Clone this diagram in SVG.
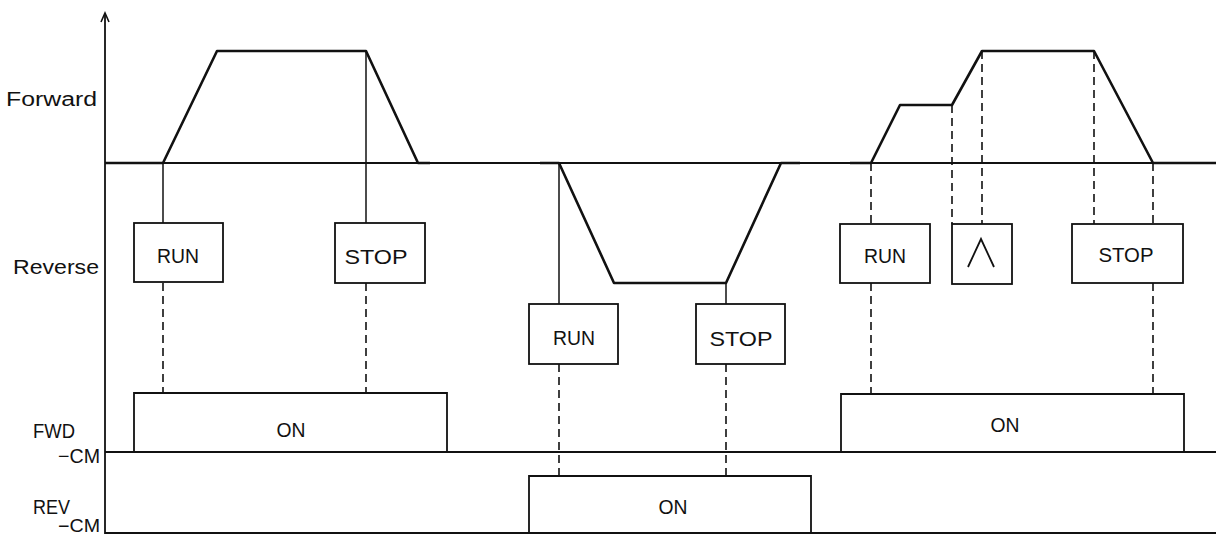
<svg xmlns="http://www.w3.org/2000/svg" width="1216" height="538" viewBox="0 0 1216 538">
<style>
text{font-family:"Liberation Sans",Arial,sans-serif;fill:#111;}
.lbl{font-size:20px;}
.bt{font-size:21px;text-anchor:middle;}
.box{fill:#fff;stroke:#111;stroke-width:1.8;}
.prof{fill:none;stroke:#111;stroke-width:2.6;stroke-linejoin:round;}
.base{fill:none;stroke:#111;stroke-width:1.8;}
.solid{stroke:#111;stroke-width:1.5;fill:none;}
.dash{stroke:#111;stroke-width:1.6;stroke-dasharray:8 5;fill:none;}
</style>
<rect width="1216" height="538" fill="#fff"/>
<g id="axes">
<line x1="105" y1="534" x2="105" y2="14" class="base"/>
<path d="M101,22 L105,13 L109,22" fill="none" stroke="#111" stroke-width="1.6"/>
<line x1="105" y1="163" x2="1216" y2="163" class="base"/>
<line x1="105" y1="452" x2="1216" y2="452" class="base"/>
<line x1="105" y1="533" x2="1216" y2="533" class="base"/>
</g>
<g id="labels">
<text class="lbl" x="6" y="106" textLength="91" lengthAdjust="spacingAndGlyphs">Forward</text>
<text class="lbl" x="13" y="274" textLength="86" lengthAdjust="spacingAndGlyphs">Reverse</text>
<text class="lbl" x="33" y="438" textLength="42" lengthAdjust="spacingAndGlyphs">FWD</text>
<text class="lbl" x="58" y="463" textLength="42" lengthAdjust="spacingAndGlyphs">−CM</text>
<text class="lbl" x="33" y="514" textLength="37" lengthAdjust="spacingAndGlyphs">REV</text>
<text class="lbl" x="58" y="532" style="font-size:18px" textLength="42" lengthAdjust="spacingAndGlyphs">−CM</text>
</g>
<g id="profiles">
<polyline class="prof" points="105,163 163,163 217,51 366,51 418,163 430,163"/>
<polyline class="prof" points="540,163 559,163 614,283 726,283 781,163 800,163"/>
<polyline class="prof" points="850,163 871,163 900,105 952,105 982,51 1094,51 1153,163 1216,163"/>
</g>
<g id="connectors">
<line class="solid" x1="163" y1="163" x2="163" y2="223"/>
<line class="solid" x1="366" y1="51" x2="366" y2="223"/>
<line class="dash" x1="163" y1="283" x2="163" y2="393"/>
<line class="dash" x1="366" y1="283" x2="366" y2="393"/>
<line class="solid" x1="559" y1="163" x2="559" y2="304"/>
<line class="solid" x1="726" y1="283" x2="726" y2="304"/>
<line class="dash" x1="559" y1="364" x2="559" y2="476"/>
<line class="dash" x1="726" y1="364" x2="726" y2="476"/>
<line class="dash" x1="871" y1="163" x2="871" y2="224"/>
<line class="dash" x1="952" y1="105" x2="952" y2="224"/>
<line class="dash" x1="982" y1="51" x2="982" y2="224"/>
<line class="dash" x1="1094" y1="51" x2="1094" y2="224"/>
<line class="dash" x1="1153" y1="163" x2="1153" y2="224"/>
<line class="dash" x1="871" y1="283" x2="871" y2="394"/>
<line class="dash" x1="1153" y1="283" x2="1153" y2="394"/>
</g>
<g id="run1"><rect class="box" x="134" y="223" width="89" height="59"/><text class="bt" x="178" y="263" textLength="42" lengthAdjust="spacingAndGlyphs">RUN</text></g>
<g id="stop1"><rect class="box" x="335" y="223" width="90" height="60"/><text class="bt" x="376" y="264" textLength="63" lengthAdjust="spacingAndGlyphs">STOP</text></g>
<g id="run2"><rect class="box" x="529" y="304" width="89" height="60"/><text class="bt" x="574" y="345" textLength="42" lengthAdjust="spacingAndGlyphs">RUN</text></g>
<g id="stop2"><rect class="box" x="696" y="304" width="89" height="60"/><text class="bt" x="741" y="346" textLength="63" lengthAdjust="spacingAndGlyphs">STOP</text></g>
<g id="run3"><rect class="box" x="840" y="224" width="90" height="59"/><text class="bt" x="885" y="263" textLength="42" lengthAdjust="spacingAndGlyphs">RUN</text></g>
<g id="up3"><rect class="box" x="952" y="224" width="60" height="60"/><polyline points="968,267 981,239 994,267" fill="none" stroke="#111" stroke-width="1.8"/></g>
<g id="stop3"><rect class="box" x="1072" y="224" width="111" height="59"/><text class="bt" x="1126" y="262" textLength="55" lengthAdjust="spacingAndGlyphs">STOP</text></g>
<g id="fwdon1"><polyline class="base" points="105,452 134,452 134,393 447,393 447,452"/><text class="bt" x="291" y="437" textLength="29" lengthAdjust="spacingAndGlyphs">ON</text></g>
<g id="revon"><polyline class="base" points="529,533 529,476 811,476 811,533"/><text class="bt" x="673" y="514" textLength="29" lengthAdjust="spacingAndGlyphs">ON</text></g>
<g id="fwdon2"><polyline class="base" points="841,452 841,394 1184,394 1184,452"/><text class="bt" x="1005" y="432" textLength="29" lengthAdjust="spacingAndGlyphs">ON</text></g>
</svg>
